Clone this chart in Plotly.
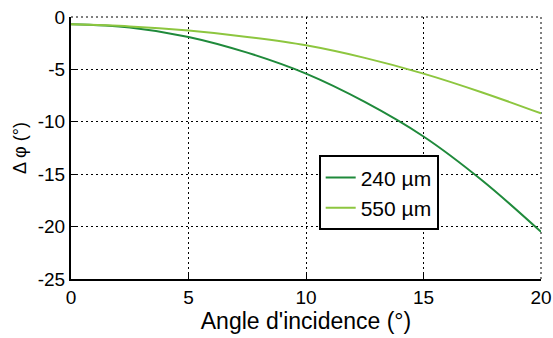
import plotly.graph_objects as go

angles = [0, 2.5, 5, 7.5, 10, 12.5, 15, 17.5, 20]
dphi_240 = [-0.7, -1.0, -1.9, -3.4, -5.4, -8.1, -11.4, -15.6, -20.5]
dphi_550 = [-0.7, -0.9, -1.3, -1.9, -2.7, -3.9, -5.4, -7.2, -9.2]
series_names = ["240 µm", "550 µm"]
x_ticks = [0, 5, 10, 15, 20]
y_ticks = [0, -5, -10, -15, -20, -25]
y_tick_text = ["0", "-5", "-10", "-15", "-20", "-25"]

fig = go.Figure()
fig.add_trace(go.Scatter(x=angles, y=dphi_240, mode="lines", name=series_names[0],
                         line=dict(color="#1f8a3b", width=2, shape="spline")))
fig.add_trace(go.Scatter(x=angles, y=dphi_550, mode="lines", name=series_names[1],
                         line=dict(color="#8dc63f", width=2, shape="spline")))

font = "Liberation Sans, Arial, sans-serif"
axis_common = dict(ticks="inside", ticklen=5, tickwidth=1, tickcolor="black",
                   showline=True, linecolor="black", linewidth=2,
                   showgrid=True, gridcolor="black", griddash="2px,3px", gridwidth=1,
                   zeroline=False, automargin=False, tickfont=dict(size=19),
                   ticklabeloverflow="allow")
# dotted frame edges on top and right (grid at the range ends, which plotly skips)
grid_edge = dict(color="black", width=1, dash="2px,3px")
fig.add_shape(type="line", xref="paper", yref="paper", x0=0, x1=1, y0=1, y1=1,
              line=grid_edge, layer="below")
fig.add_shape(type="line", xref="paper", yref="paper", x0=1, x1=1, y0=0, y1=1,
              line=grid_edge, layer="below")

fig.update_layout(
    width=553, height=338,
    margin=dict(l=71, r=12, t=17, b=59),
    paper_bgcolor="white", plot_bgcolor="white",
    font=dict(family=font, size=19, color="black"),
    showlegend=True,
    legend=dict(x=0.527, y=0.472, xanchor="left", yanchor="top",
                bordercolor="black", borderwidth=2, bgcolor="white",
                font=dict(size=21), itemwidth=30, tracegroupgap=0),
    xaxis=dict(range=[0, 20], tickvals=x_ticks,
               title=dict(text="Angle d'incidence (°)", standoff=1), **axis_common),
    yaxis=dict(range=[-25, 0], tickvals=y_ticks, ticktext=y_tick_text,
               title=dict(text="Δ φ (°)", standoff=6, font=dict(size=18)), **axis_common),
)
fig.write_html("out.html", config={"displayModeBar": False},
               post_script="document.body.style.margin='0';document.body.style.overflow='hidden';")
